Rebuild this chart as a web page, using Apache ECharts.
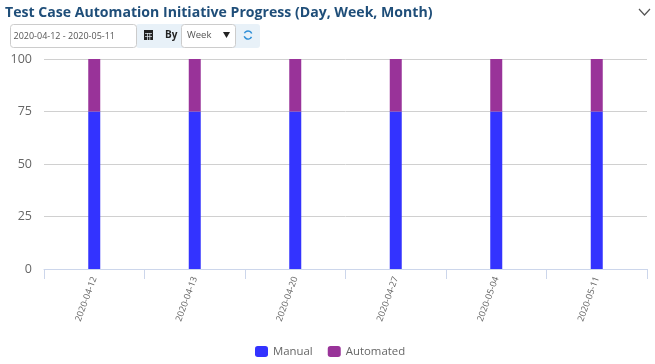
<!DOCTYPE html>
<html><head><meta charset="utf-8">
<style>html,body{margin:0;padding:0;background:#fff}#c{width:655px;height:364px}</style>
<script src="https://cdn.jsdelivr.net/npm/echarts@6/dist/echarts.min.js"></script>
</head><body><div id="c"></div>
<script>
const categories=['2020-04-12','2020-04-13','2020-04-20','2020-04-27','2020-05-04','2020-05-11'];
const manual=[75,75,75,75,75,75];
const automated=[25,25,25,25,25,25];
const yTicks=[0,25,50,75,100];
const titleText='Test Case Automation Initiative Progress (Day, Week, Month)';
const dateRange='2020-04-12 - 2020-05-11';
const F='"Open Sans"';
const chart=echarts.init(document.getElementById('c'),null,{renderer:'canvas'});
chart.setOption({
 animation:false,
 title:{text:titleText,left:0,top:1,textStyle:{fontFamily:F,fontSize:14.1,fontWeight:700,color:'#1f4e79'}},
 grid:{left:44,right:8,top:59,bottom:95},
 legend:{top:341,left:250,itemWidth:13,itemHeight:11,itemGap:15,icon:'roundRect',
  textStyle:{fontFamily:F,fontSize:11.4,color:'#666'},data:['Manual','Automated']},
 xAxis:{type:'category',data:categories,
  axisLine:{lineStyle:{color:'#ccd6eb'}},axisTick:{show:true,length:10,lineStyle:{color:'#ccd6eb'},alignWithLabel:false},
  axisLabel:{rotate:70,fontFamily:F,fontSize:9,color:'#666',margin:8}},
 yAxis:{type:'value',min:0,max:100,interval:25,
  axisLine:{show:false},axisTick:{show:false},
  splitLine:{lineStyle:{color:'#d0d0d0'}},
  axisLabel:{fontFamily:F,fontSize:12.5,color:'#666',margin:12,formatter:v=>yTicks.includes(v)?String(v):''}},
 series:[
  {name:'Manual',type:'bar',stack:'a',data:manual,barWidth:12,itemStyle:{color:'#3333ff'}},
  {name:'Automated',type:'bar',stack:'a',data:automated,barWidth:12,itemStyle:{color:'#993399'}}
 ],
 graphic:[
  {type:'rect',shape:{x:136,y:24,width:124,height:24,r:3},style:{fill:'#e8f1f8'}},
  {type:'rect',shape:{x:10.5,y:24.5,width:126,height:23,r:3},style:{fill:'#fff',stroke:'#ccc'}},
  {type:'text',style:{x:13.5,y:36,text:dateRange,fontFamily:F,fontSize:9,fill:'#555',verticalAlign:'middle'}},
  {type:'rect',shape:{x:144,y:30,width:9,height:10},style:{fill:'#222'}},
  {type:'rect',shape:{x:145,y:33,width:7,height:0.7},style:{fill:'#e8f1f8'}},
  {type:'rect',shape:{x:147,y:33,width:0.7,height:7},style:{fill:'#e8f1f8'}},
  {type:'rect',shape:{x:149.5,y:33,width:0.7,height:7},style:{fill:'#e8f1f8'}},
  {type:'rect',shape:{x:145,y:36,width:7,height:0.7},style:{fill:'#e8f1f8'}},
  {type:'text',style:{x:165,y:35,text:'By',fontFamily:F,fontSize:10,fontWeight:700,fill:'#222',verticalAlign:'middle'}},
  {type:'rect',shape:{x:181.5,y:24.5,width:54,height:23,r:3},style:{fill:'#fff',stroke:'#ccc'}},
  {type:'text',style:{x:187,y:35.5,text:'Week',fontFamily:F,fontSize:9.5,fill:'#555',verticalAlign:'middle'}},
  {type:'polygon',shape:{points:[[223,32],[230,32],[226.5,38]]},style:{fill:'#222'}},
  {type:'arc',shape:{cx:248,cy:35,r:4,startAngle:3.6,endAngle:5.9},style:{fill:'none',stroke:'#2f8fd8',lineWidth:1.5}},
  {type:'arc',shape:{cx:248,cy:35,r:4,startAngle:0.5,endAngle:2.8},style:{fill:'none',stroke:'#2f8fd8',lineWidth:1.5}},
  {type:'polyline',shape:{points:[[639,9],[644.5,15],[650,9]]},style:{fill:'none',stroke:'#555',lineWidth:1.2}}
 ]
});
</script></body></html>
